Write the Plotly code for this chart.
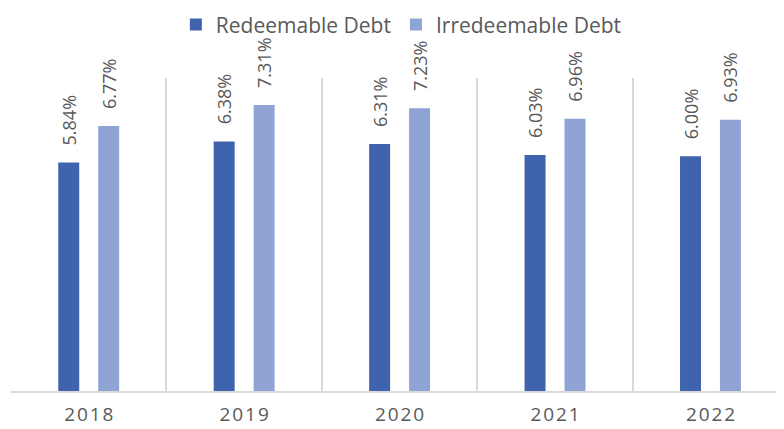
import plotly.graph_objects as go

years = ["2018", "2019", "2020", "2021", "2022"]
redeemable = [5.84, 6.38, 6.31, 6.03, 6.00]
irredeemable = [6.77, 7.31, 7.23, 6.96, 6.93]

BLUE = "#3F63AD"
LIGHT = "#8FA4D4"
GREY_TEXT = "#595959"
GRID = "#D9D9D9"
FONT = "Open Sans, Lato, sans-serif"


def spaced(label):
    # excel draws the year ticks with some letter spacing
    return "\u200a".join(label)


fig = go.Figure()
for name, vals, col in [("Redeemable Debt", redeemable, BLUE),
                        ("Irredeemable Debt", irredeemable, LIGHT)]:
    fig.add_trace(go.Bar(
        x=years, y=vals, name=name,
        marker=dict(color=col, line=dict(width=0)),
        # leading nbsp's keep the rotated label clear of the bar top
        text=["\u00a0\u00a0\u00a0" + f"{v:.2f}%" for v in vals],
        textposition="outside", textangle=-90, constraintext="none",
        textfont=dict(family=FONT, size=18, color=GREY_TEXT),
        cliponaxis=False,
    ))

# the page body keeps its default 8px margin, so the figure is 8px smaller
fig.update_layout(
    width=776, height=421,
    margin=dict(l=3, r=0, t=70, b=38),
    paper_bgcolor="white", plot_bgcolor="white",
    barmode="group", bargap=0.486, bargroupgap=0.475,
    font=dict(family=FONT, color=GREY_TEXT),
    legend=dict(orientation="h", x=0.505, xanchor="center", y=0.96, yanchor="middle",
                yref="container", font=dict(size=21, color=GREY_TEXT),
                bgcolor="rgba(0,0,0,0)", itemwidth=30, traceorder="normal"),
)
fig.update_xaxes(
    type="category", tickson="boundaries", showgrid=True, gridcolor=GRID, gridwidth=1.5,
    showline=True, linecolor=GRID, linewidth=2, ticks="", automargin=False,
    tickvals=years, ticktext=[spaced(y) for y in years], ticklabelstandoff=5,
    tickfont=dict(size=19, color=GREY_TEXT), range=[-0.5, 4.473],
)
fig.update_yaxes(range=[0, 8], showgrid=False, zeroline=False, showticklabels=False,
                 automargin=False)

fig.write_html("out.html")
